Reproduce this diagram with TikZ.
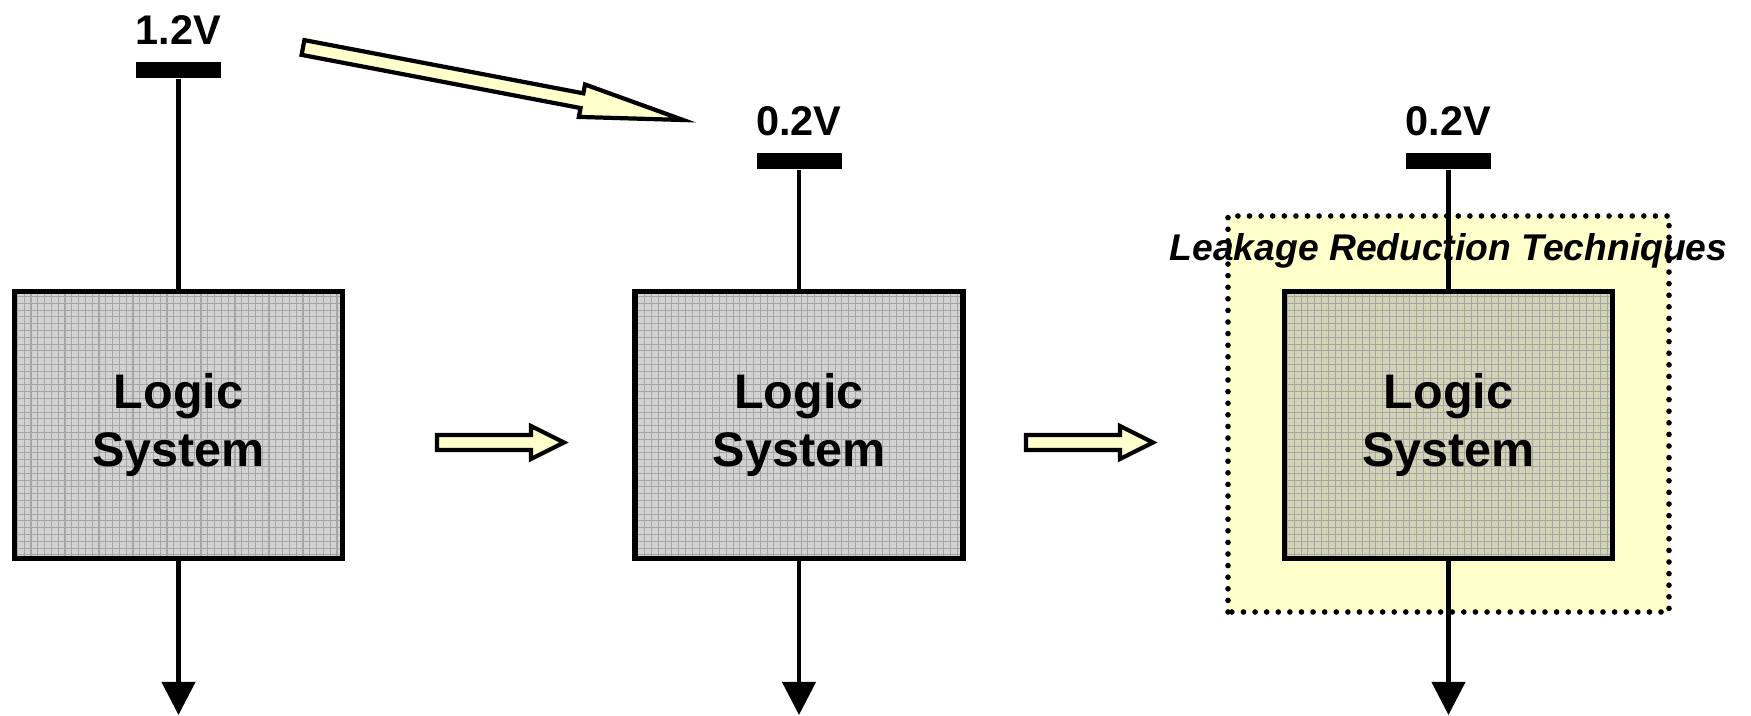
\documentclass[tikz,border=0pt]{standalone}
\usepackage{fontspec}
\setmainfont{Liberation Sans}
\usepackage{tikz}
\usetikzlibrary{arrows.meta}
\usetikzlibrary{positioning}

\definecolor{boxgray}{HTML}{D2D2D2}
\definecolor{boxkhaki}{HTML}{D3D3B6}
\definecolor{gridgray}{HTML}{A6A6A6}
\definecolor{paleyellow}{HTML}{FFFFCC}

\tikzset{
    gridline/.style={step=0.68mm, draw=gridgray, line width=0.3pt},
    logicbox/.style={draw, line width=1.7pt, minimum width=3.28cm, minimum height=2.67cm,
        align=center, font=\fontsize{13.8}{16.5}\selectfont\bfseries,
        path picture={\draw[gridline] (path picture bounding box.south west) grid (path picture bounding box.north east);}},
    railbar/.style={fill=black, inner sep=0pt, minimum width=0.85cm, minimum height=0.16cm},
    volt/.style={inner sep=0pt, font=\fontsize{11.8}{13}\selectfont\bfseries},
    wire/.style={line width=1.2pt},
    outwire/.style={line width=1.2pt, -{Triangle[width=3.3mm,length=3.3mm]}},
    yellowarrow/.style={fill=paleyellow, draw=black, line width=1.2pt, line join=miter},
    leakzone/.style={draw=black, line width=1.6pt, line cap=round, dash pattern=on 0pt off 3.3pt},
}

% fat block arrow: start point, angle, length, head length
\newcommand{\fatarrow}[4]{%
    \draw[yellowarrow, shift={#1}, rotate=#2]
        (0,-0.075) -- ({#3-#4},-0.075) -- ({#3-#4},-0.165) -- (#3,0)
        -- ({#3-#4},0.165) -- ({#3-#4},0.075) -- (0,0.075) -- cycle;}

\begin{document}
\begin{tikzpicture}
    \useasboundingbox (0,0) rectangle (17.51,7.16);

    % first stage, 1.2V
    \node[logicbox, fill=boxgray] (sys1) at (1.785,2.91) {Logic\\System};
    \node[railbar] (rail1) at (1.785,6.46) {};
    \node[volt] (v1) at (1.785,6.86) {1.2V};
    \coordinate (out1) at (1.785,0.01);
    \draw[wire] (rail1) -- (sys1);
    \draw[outwire] (sys1) -- (out1);

    % second stage, 0.2V
    \node[logicbox, fill=boxgray] (sys2) at (7.99,2.91) {Logic\\System};
    \node[railbar] (rail2) at (7.99,5.545) {};
    \node[volt] (v2) at (7.99,5.95) {0.2V};
    \coordinate (out2) at (7.99,0.01);
    \draw[wire] (rail2) -- (sys2);
    \draw[outwire] (sys2) -- (out2);

    % third stage, with leakage reduction
    \fill[paleyellow] (12.28,1.04) rectangle (16.69,5.00);
    \node[font=\fontsize{10.6}{12}\selectfont\bfseries\itshape, inner sep=0pt] (leak) at (14.485,4.65) {Leakage Reduction Techniques};
    \draw[leakzone] (12.28,1.04) rectangle (16.69,5.00);
    \node[logicbox, fill=boxkhaki] (sys3) at (14.485,2.91) {Logic\\System};
    \node[railbar] (rail3) at (14.485,5.545) {};
    \node[volt] (v3) at (14.485,5.95) {0.2V};
    \coordinate (out3) at (14.485,0.01);
    \draw[wire] (rail3) -- (sys3);
    \draw[outwire] (sys3) -- (out3);

    % block arrows between the stages
    \fatarrow{(3.03,6.685)}{-10.8}{3.87}{1.03}
    \fatarrow{(4.37,2.735)}{0}{1.27}{0.33}
    \fatarrow{(10.26,2.735)}{0}{1.27}{0.33}
\end{tikzpicture}
\end{document}
